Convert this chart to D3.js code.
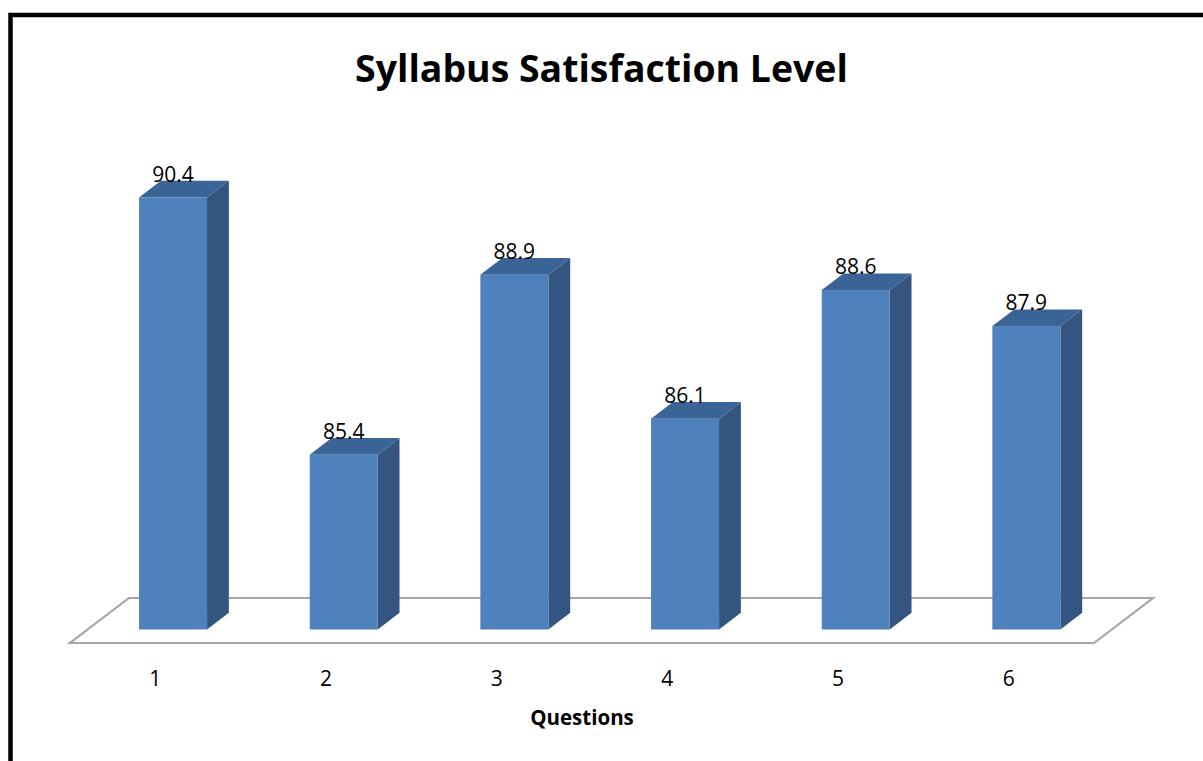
<!DOCTYPE html>
<html>
<head>
<title>Syllabus Satisfaction Level</title>
<script src="https://d3js.org/d3.v7.min.js"></script>
<style>
  body { margin: 0; background: #fff; }
  svg text { font-family: "Open Sans", "Noto Sans", sans-serif; }
</style>
</head>
<body>
<div id="my_dataviz"></div>
<script>

// chart data
var questions = ["1", "2", "3", "4", "5", "6"];
var satisfaction = [90.4, 85.4, 88.9, 86.1, 88.6, 87.9];
var valueRange = [82, 91];

var width = 1203, height = 761;

var svg = d3.select("#my_dataviz")
  .append("svg")
    .attr("width", width)
    .attr("height", height);

// outer frame (runs off the right and bottom of the picture)
svg.append("rect")
  .attr("x", 10.5).attr("y", 15)
  .attr("width", width + 20).attr("height", height + 20)
  .attr("fill", "none")
  .attr("stroke", "#000")
  .attr("stroke-width", 4.5);

// floor front edge and depth vector of the 3d box
var floorY = 643,
    depth = {dx: 59, dy: -45};

var x = d3.scaleBand()
  .domain(questions)
  .range([70, 1094]);

// bars sit a bit back from the front edge of the floor
var barFront = 0.3, barDepth = 0.37, barWidth = 68;
var baseY = floorY + depth.dy * barFront;

var y = d3.scaleLinear()
  .domain(valueRange)
  .range([baseY, baseY - 9 * 51.43]);

// floor
var x0 = x.range()[0], x1 = x.range()[1];
svg.append("path")
  .attr("d", "M" + x0 + "," + floorY + "L" + x1 + "," + floorY +
             "L" + (x1 + depth.dx) + "," + (floorY + depth.dy) +
             "L" + (x0 + depth.dx) + "," + (floorY + depth.dy) + "Z")
  .attr("fill", "#fff")
  .attr("stroke", "#a6a6a6")
  .attr("stroke-width", 2.2);

var ddx = depth.dx * barDepth, ddy = depth.dy * barDepth;

var bars = svg.selectAll(".bar")
  .data(questions.map(function(q, i) { return {q: q, v: satisfaction[i]}; }))
  .enter()
  .append("g")
    .attr("class", "bar");

function left(d) { return x(d.q) + x.bandwidth() / 2 + depth.dx * barFront - barWidth / 2; }

// side face
bars.append("path")
  .attr("fill", "#34557f")
  .attr("d", function(d) {
    var l = left(d) + barWidth, t = y(d.v), b = y(valueRange[0]);
    return "M" + l + "," + b + "L" + l + "," + t +
           "L" + (l + ddx) + "," + (t + ddy) +
           "L" + (l + ddx) + "," + (b + ddy) + "Z";
  });

// top face
bars.append("path")
  .attr("fill", "#3b6496")
  .attr("d", function(d) {
    var l = left(d), t = y(d.v);
    return "M" + l + "," + t + "L" + (l + barWidth) + "," + t +
           "L" + (l + barWidth + ddx) + "," + (t + ddy) +
           "L" + (l + ddx) + "," + (t + ddy) + "Z";
  });

// front face
bars.append("rect")
  .attr("fill", "#4f81bd")
  .attr("x", left)
  .attr("y", function(d) { return y(d.v); })
  .attr("width", barWidth)
  .attr("height", function(d) { return y(valueRange[0]) - y(d.v); });

// value labels
bars.append("text")
  .attr("x", function(d) { return left(d) + barWidth / 2; })
  .attr("y", function(d) { return y(d.v) + ddy + 1; })
  .attr("text-anchor", "middle")
  .attr("font-size", 21)
  .attr("fill", "#000")
  .text(function(d) { return d.v.toFixed(1); });

// category labels
svg.selectAll(".tick-label")
  .data(questions)
  .enter()
  .append("text")
    .attr("class", "tick-label")
    .attr("x", function(d) { return x(d) + x.bandwidth() / 2; })
    .attr("y", 686)
    .attr("text-anchor", "middle")
    .attr("font-size", 21)
    .text(function(d) { return d; });

// axis title
svg.append("text")
  .attr("x", (x0 + x1) / 2)
  .attr("y", 725)
  .attr("text-anchor", "middle")
  .attr("font-size", 20.5)
  .attr("font-weight", "bold")
  .text("Questions");

// chart title, sized to the original width
var title = svg.append("text")
  .attr("x", 601.5)
  .attr("y", 82)
  .attr("text-anchor", "middle")
  .attr("font-size", 40)
  .attr("font-weight", "bold")
  .text("Syllabus Satisfaction Level");
var tw = title.node().getComputedTextLength();
title.attr("font-size", 40 * 493 / tw);

</script>
</body>
</html>
